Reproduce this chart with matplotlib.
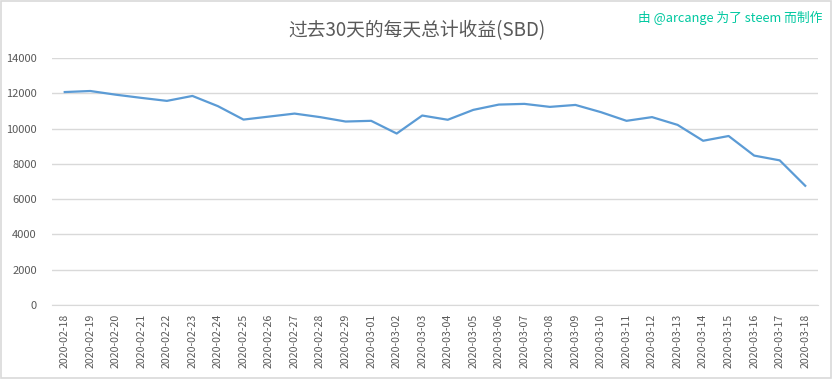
import matplotlib.pyplot as plt

plt.rcParams['font.family'] = ['Noto Sans CJK SC', 'DejaVu Sans']

# daily totals (SBD), last 30 days
dates = ['2020-02-18', '2020-02-19', '2020-02-20', '2020-02-21', '2020-02-22',
         '2020-02-23', '2020-02-24', '2020-02-25', '2020-02-26', '2020-02-27',
         '2020-02-28', '2020-02-29', '2020-03-01', '2020-03-02', '2020-03-03',
         '2020-03-04', '2020-03-05', '2020-03-06', '2020-03-07', '2020-03-08',
         '2020-03-09', '2020-03-10', '2020-03-11', '2020-03-12', '2020-03-13',
         '2020-03-14', '2020-03-15', '2020-03-16', '2020-03-17', '2020-03-18']
sbd = [12070, 12130, 11920, 11740, 11570, 11850, 11270, 10510, 10680, 10850,
       10650, 10400, 10440, 9720, 10740, 10500, 11060, 11360, 11400, 11230,
       11340, 10930, 10440, 10650, 10210, 9310, 9580, 8470, 8200, 6760]
yticks = [0, 2000, 4000, 6000, 8000, 10000, 12000, 14000]

fig = plt.figure(figsize=(8.33, 3.79), dpi=100)
ax = fig.add_axes([0.0624, 0.195, 0.9196, 0.652])

x = list(range(len(dates)))
ax.plot(x, sbd, color='#5b9bd5', linewidth=1.6, zorder=3)

ax.set_xlim(-0.5, len(dates) - 0.5)
ax.set_ylim(0, 14000)
ax.set_yticks(yticks)
ax.set_yticklabels([str(v) for v in yticks], fontsize=8, color='#595959')
ax.set_xticks(x)
ax.set_xticklabels(dates, rotation=90, fontsize=7.6, color='#595959')
ax.tick_params(axis='y', length=0, pad=11)
ax.tick_params(axis='x', length=0, pad=6)
ax.grid(axis='y', color='#d9d9d9', linewidth=1)
ax.set_axisbelow(True)
for s in ['top', 'right', 'left']:
    ax.spines[s].set_visible(False)
ax.spines['bottom'].set_color('#d9d9d9')

fig.text(0.5, 0.92, '过去30天的每天总计收益(SBD)', ha='center', va='center',
         fontsize=13.5, color='#595959', fontweight='light')
fig.text(0.987, 0.953, '由 @arcange 为了 steem 而制作', ha='right', va='center',
         fontsize=9.2, color='#00c8a0')

# outer border
fig.patches.append(plt.Rectangle((0.001, 0.002), 0.997, 0.995, transform=fig.transFigure,
                                 fill=False, edgecolor='#d9d9d9', linewidth=1.2))

fig.savefig('out.png', dpi=100)
